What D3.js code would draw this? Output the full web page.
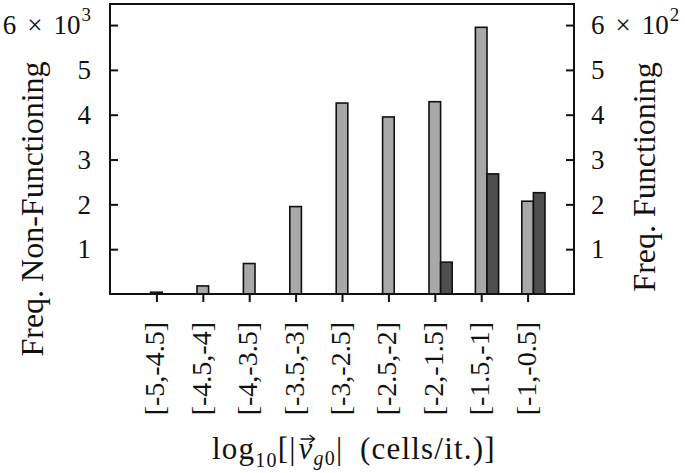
<!DOCTYPE html>
<html>
<head>
<meta charset="utf-8">
<script src="https://cdn.jsdelivr.net/npm/d3@7"></script>
<style>
  html, body { margin: 0; padding: 0; background: #fff; }
  svg { display: block; }
  text { font-family: "Liberation Serif", "Times New Roman", serif; fill: #111; }
</style>
</head>
<body>
<svg id="chart" width="685" height="473"></svg>
<script>
// ---- data ----
const categories = ["[-5,-4.5]", "[-4.5,-4]", "[-4,-3.5]", "[-3.5,-3]", "[-3,-2.5]", "[-2.5,-2]", "[-2,-1.5]", "[-1.5,-1]", "[-1,-0.5]"];
const nonFunctioning = [40, 180, 680, 1950, 4260, 3950, 4290, 5950, 2070];
const functioning = [0, 0, 0, 0, 0, 0, 71, 268, 226];
const leftTickValues = [1000, 2000, 3000, 4000, 5000, 6000];
const leftTickLabels = ["1", "2", "3", "4", "5", "6 × 10^3"];
const rightTickValues = [100, 200, 300, 400, 500, 600];
const rightTickLabels = ["1", "2", "3", "4", "5", "6 × 10^2"];
const leftTitle = "Freq. Non-Functioning";
const rightTitle = "Freq. Functioning";

// ---- layout ----
const svg = d3.select("#chart");
const L = 110, R = 574, T = 4, B = 294;

const x = d3.scaleLinear().domain([0, categories.length + 1]).range([L, R]);
const yL = d3.scaleLinear().domain([0, 6470]).range([B, T]);
const yR = d3.scaleLinear().domain([0, 647]).range([B, T]);
const bw = 0.25; // bar width in x units

const barData = categories.map((c, i) => ({ i, nf: nonFunctioning[i], f: functioning[i] }));

// bars: non-functioning (centered on tick)
svg.append("g").selectAll("rect").data(barData).join("rect")
  .attr("x", d => x(d.i + 1 - bw / 2))
  .attr("width", d => x(d.i + 1 + bw / 2) - x(d.i + 1 - bw / 2))
  .attr("y", d => yL(d.nf))
  .attr("height", d => yL(0) - yL(d.nf))
  .attr("fill", "#a8a8a8").attr("stroke", "#111").attr("stroke-width", 1.6);

// bars: functioning (to the right)
svg.append("g").selectAll("rect").data(barData.filter(d => d.f > 0)).join("rect")
  .attr("x", d => x(d.i + 1 + bw / 2))
  .attr("width", d => x(d.i + 1 + 1.5 * bw) - x(d.i + 1 + bw / 2))
  .attr("y", d => yR(d.f))
  .attr("height", d => yR(0) - yR(d.f))
  .attr("fill", "#4e4e4e").attr("stroke", "#111").attr("stroke-width", 1.6);

// frame
svg.append("rect").attr("x", L).attr("y", T).attr("width", R - L).attr("height", B - T)
  .attr("fill", "none").attr("stroke", "#111").attr("stroke-width", 2);

// axes tick lines
const axL = svg.append("g").attr("transform", `translate(${L},0)`)
  .call(d3.axisLeft(yL).tickValues(leftTickValues).tickSize(-8).tickFormat(""));
const axR = svg.append("g").attr("transform", `translate(${R},0)`)
  .call(d3.axisRight(yR).tickValues(rightTickValues).tickSize(-8).tickFormat(""));
const axB = svg.append("g").attr("transform", `translate(0,${B})`)
  .call(d3.axisBottom(x).tickValues(categories.map((c, i) => i + 1)).tickSize(8).tickFormat(""));
[axL, axR, axB].forEach(a => {
  a.select(".domain").remove();
  a.selectAll(".tick line").attr("stroke", "#111").attr("stroke-width", 2);
});

// tick labels with superscript
function addLabel(g, label, xPos, yPos, anchor) {
  const t = g.append("text").attr("x", xPos).attr("y", yPos).attr("dy", "0.34em")
    .attr("text-anchor", anchor).attr("font-size", 27);
  const parts = label.split("^");
  if (parts.length === 1) { t.text(label); return; }
  const m = parts[0].split(" ");
  t.append("tspan").text(m[0]);
  t.append("tspan").attr("dx", 11).text(m[1]);
  t.append("tspan").attr("dx", 11).text(m[2]);
  t.append("tspan").attr("font-size", 19).attr("dx", 1).attr("dy", "-0.7em").text(parts[1]);
}
const labG = svg.append("g");
leftTickValues.forEach((v, i) => addLabel(labG, leftTickLabels[i], 91, yL(v), "end"));
rightTickValues.forEach((v, i) => addLabel(labG, rightTickLabels[i], 591, yR(v), "start"));

// x tick labels (rotated)
svg.append("g").selectAll("text").data(categories).join("text")
  .attr("transform", (d, i) => `translate(${x(i + 1) + 8},322) rotate(-90)`)
  .attr("text-anchor", "end")
  .attr("font-size", 28)
  .text(d => d);

// axis titles
svg.append("text").attr("transform", "translate(43,209) rotate(-90)")
  .attr("text-anchor", "middle").attr("font-size", 32).text(leftTitle);
svg.append("text").attr("transform", "translate(655,177) rotate(-90)")
  .attr("text-anchor", "middle").attr("font-size", 32).text(rightTitle);

// x title: log10[|v_g0| (cells/it.)]
const baseY = 459;
const xt = svg.append("text").attr("x", 212).attr("y", baseY).attr("font-size", 31)
  .attr("letter-spacing", 1.2);
xt.append("tspan").text("log");
xt.append("tspan").attr("font-size", 20).attr("dy", 8).text("10");
xt.append("tspan").attr("dy", -8).text("[|");
xt.append("tspan").attr("font-style", "italic").attr("dx", 2).text("v");
xt.append("tspan").attr("font-size", 20).attr("font-style", "italic").attr("dy", 6).text("g");
xt.append("tspan").attr("font-size", 20).text("0");
xt.append("tspan").attr("dy", -6).text("|\u2002(cells/it.)]");
// arrow over v
const node = xt.node();
const full = node.textContent;
const vi = full.indexOf("v");
const p0 = node.getStartPositionOfChar(vi);
const p1 = node.getEndPositionOfChar(vi);
const ay = baseY - 20;
svg.append("path")
  .attr("d", `M${p0.x + 2},${ay} L${p1.x + 1},${ay} M${p1.x - 4},${ay - 4} L${p1.x + 1},${ay} L${p1.x - 4},${ay + 4}`)
  .attr("fill", "none").attr("stroke", "#111").attr("stroke-width", 1.3);
</script>
</body>
</html>
